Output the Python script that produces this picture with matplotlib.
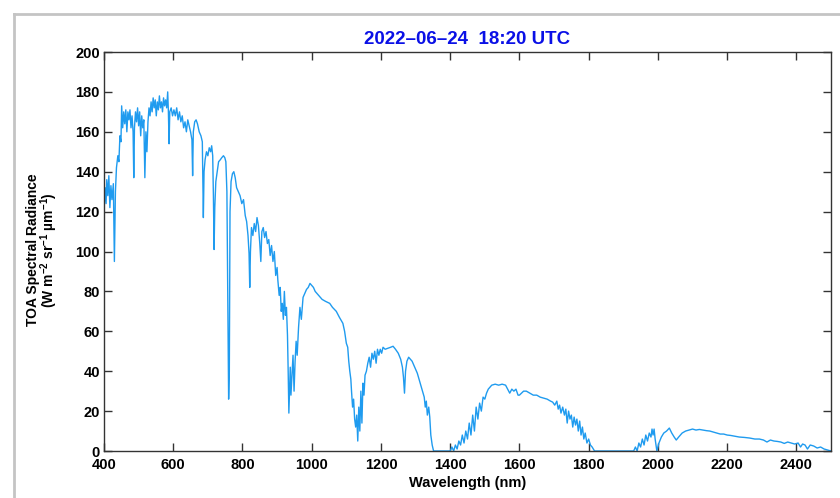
import matplotlib
matplotlib.use("Agg")
import matplotlib.pyplot as plt
from matplotlib.lines import Line2D

plt.rcParams['font.family'] = ['Liberation Sans', 'DejaVu Sans']
plt.rcParams['font.weight'] = 'bold'
plt.rcParams['mathtext.fontset'] = 'custom'
plt.rcParams['mathtext.rm'] = 'Liberation Sans:bold'
plt.rcParams['mathtext.bf'] = 'Liberation Sans:bold'
plt.rcParams['mathtext.default'] = 'bf'

# spectrum (wavelength nm, radiance W m-2 sr-1 um-1)
wavelength = [
    400, 403, 406, 408, 411, 414, 417, 420, 423, 427, 430, 433, 436, 440, 443, 446, 449, 451, 454, 457,
    460, 463, 466, 469, 472, 475, 478, 481, 484, 486, 488, 491, 494, 497, 500, 503, 506, 509, 512, 515,
    518, 521, 524, 527, 530, 533, 536, 539, 542, 545, 548, 551, 554, 557, 560, 563, 566, 569, 572, 575,
    578, 581, 584, 586, 588, 590, 594, 598, 602, 606, 610, 614, 618, 622, 626, 630, 634, 638, 642, 646,
    650, 654, 656, 658, 662, 666, 670, 675, 680, 684, 687, 689, 692, 696, 700, 704, 708, 711, 714, 716,
    718, 720, 723, 727, 731, 736, 740, 745, 749, 752, 755, 758, 760, 762, 764, 767, 771, 775, 779, 783,
    788, 793, 798, 803, 808, 812, 816, 819, 821, 823, 826, 830, 834, 838, 842, 846, 850, 853, 856, 860,
    864, 868, 872, 876, 880, 884, 888, 892, 896, 900, 902, 906, 909, 912, 915, 918, 921, 924, 927, 930,
    932, 934, 936, 938, 940, 943, 946, 949, 952, 955, 958, 962, 966, 970, 975, 980, 985, 990, 995, 1000,
    1005, 1010, 1015, 1020, 1030, 1040, 1052, 1060, 1071, 1080, 1090, 1095, 1100, 1104, 1107, 1110, 1113,
    1115, 1118, 1121, 1124, 1127, 1130, 1133, 1136, 1139, 1142, 1145, 1148, 1151, 1154, 1158, 1162, 1166,
    1170, 1174, 1178, 1182, 1186, 1190, 1194, 1198, 1202, 1206, 1212, 1220, 1228, 1235, 1242, 1250, 1257,
    1262, 1265, 1268, 1271, 1275, 1280, 1285, 1290, 1295, 1300, 1305, 1310, 1315, 1320, 1325, 1328, 1331,
    1334, 1338, 1341, 1344, 1348, 1352, 1400, 1405, 1410, 1415, 1420, 1425, 1430, 1435, 1440, 1445, 1450,
    1455, 1460, 1465, 1470, 1475, 1480, 1485, 1490, 1495, 1500, 1505, 1510, 1515, 1520, 1530, 1540, 1550,
    1560, 1566, 1572, 1578, 1584, 1590, 1596, 1600, 1606, 1612, 1620, 1630, 1640, 1650, 1660, 1670, 1680,
    1690, 1696, 1702, 1708, 1712, 1716, 1720, 1725, 1730, 1734, 1738, 1742, 1746, 1750, 1754, 1758, 1762,
    1766, 1770, 1774, 1778, 1782, 1786, 1790, 1795, 1800, 1805, 1810, 1817, 1930, 1935, 1940, 1945, 1950,
    1955, 1960, 1965, 1970, 1975, 1980, 1983, 1986, 1989, 1992, 1997, 2003, 2010, 2017, 2025, 2033, 2040,
    2047, 2053, 2060, 2070, 2080, 2090, 2100, 2110, 2120, 2130, 2140, 2150, 2160, 2170, 2180, 2190, 2200,
    2210, 2220, 2235, 2250, 2265, 2280, 2293, 2305, 2315, 2325, 2335, 2345, 2355, 2365, 2375, 2385, 2395,
    2405, 2412, 2418, 2425, 2432, 2440, 2450, 2460, 2470, 2480, 2490, 2500,
]
radiance = [
    120, 132, 124, 136, 128, 138, 122, 133, 126, 134, 95, 130, 142, 148, 145, 158, 155, 173, 162, 170,
    164, 171, 160, 170, 166, 171, 162, 168, 160, 137, 162, 170, 165, 172, 163, 170, 158, 168, 162, 166,
    137, 160, 150, 165, 172, 168, 175, 170, 177, 172, 176, 168, 175, 171, 178, 172, 175, 170, 177, 173,
    176, 172, 180, 170, 154, 170, 172, 168, 171, 168, 172, 166, 170, 165, 168, 162, 165, 160, 166, 163,
    160, 156, 138, 160, 165, 166, 164, 160, 158, 155, 117, 140, 146, 150, 148, 152, 150, 153, 148, 128,
    101, 122, 135, 140, 145, 146, 147, 148, 147, 145, 130, 70, 26, 40, 120, 135, 139, 140, 137, 132,
    130, 128, 124, 126, 118, 115, 108, 99, 82, 100, 112, 108, 114, 110, 117, 113, 104, 95, 110, 112,
    107, 110, 104, 106, 98, 103, 95, 100, 88, 92, 86, 78, 82, 70, 74, 66, 80, 68, 72, 58,
    40, 19, 30, 42, 28, 38, 48, 30, 45, 55, 48, 62, 72, 66, 77, 79, 81, 82, 84, 83,
    82, 80, 79, 78, 76, 75, 74, 72, 70, 67, 64, 60, 54, 52, 45, 40, 36,
    30, 22, 26, 16, 12, 18, 5, 22, 10, 30, 14, 34, 28, 38, 40, 44, 47,
    42, 49, 46, 50, 44, 51, 48, 51, 49, 52, 51, 51.5, 52, 52.5, 51, 49, 46,
    42, 37, 29, 40, 45, 47, 46, 45, 43, 41, 39, 36, 33, 30, 27, 22, 25,
    18, 22, 17, 8, 3, 0, 0, 2, 0, 3, 1, 5, 3, 8, 4, 10, 6,
    14, 8, 18, 10, 22, 16, 24, 20, 27, 26, 29, 31, 32, 33, 33.5, 33, 33.5,
    33, 31, 29, 31, 30, 31, 28, 28, 29, 30, 30, 29, 28, 28, 27, 26.5, 26,
    25, 24.5, 23, 25, 21, 23, 19, 22, 18, 21, 14, 20, 16, 18, 12, 17, 13,
    16, 10, 15, 8, 12, 6, 9, 4, 6, 3, 2, 0, 0, 2, 0, 4, 2,
    6, 3, 8, 5, 9, 7, 11, 8, 11, 6, 0, 4, 7, 9, 10, 11.5, 9,
    7, 5.5, 7, 9, 10, 10.5, 11, 10.5, 10.8, 10.5, 10.2, 10, 9.5, 9, 8.5, 8.5, 8,
    7.8, 7.5, 7, 6.8, 6.5, 6, 6, 5.5, 4.5, 5.5, 5, 4.8, 4.5, 3.8, 4.5, 4, 3.5,
    4, 2, 3.5, 3, 1, 3, 2.5, 1.5, 2, 1, 0.5, 0,
]
xticks = [400, 600, 800, 1000, 1200, 1400, 1600, 1800, 2000, 2200, 2400]
yticks = [0, 20, 40, 60, 80, 100, 120, 140, 160, 180, 200]

fig = plt.figure(figsize=(8.4, 4.98), dpi=100)
ax = fig.add_axes([104 / 840, 1 - 451 / 498, 727 / 840, 399 / 498])

ax.plot(wavelength, radiance, color='#1f9bef', lw=1.0)

ax.set_xlim(400, 2500)
ax.set_ylim(0, 200)
ax.set_xticks(xticks)
ax.set_yticks(yticks)
ax.tick_params(direction='in', top=True, right=True, length=6, width=1,
               color='#333333', labelsize=10.5, pad=3)
ax.tick_params(axis='x', pad=5)
for s in ax.spines.values():
    s.set_color('#333333')
    s.set_linewidth(1)
for lab in ax.get_xticklabels() + ax.get_yticklabels():
    lab.set_fontweight('bold')

ax.set_title('2022\u201306\u201324  18:20 UTC', color='#0a10e6', fontsize=13.5,
             fontweight='bold', pad=6)
ax.set_xlabel('Wavelength (nm)', fontsize=10.5, fontweight='bold', labelpad=3)

fig.text(33 / 840, 1 - 250 / 498, 'TOA Spectral Radiance', rotation=90,
         ha='center', va='center', fontsize=10, fontweight='bold')
fig.text(49 / 840, 1 - 250 / 498, r'(W m$^{-2}$ sr$^{-1}$ µm$^{-1}$)', rotation=90,
         ha='center', va='center', fontsize=10, fontweight='bold')

# light grey frame around the panel
fig.add_artist(Line2D([14 / 840, 14 / 840], [0, 1 - 14 / 498], color='#c4c4c4', lw=2))
fig.add_artist(Line2D([14 / 840, 1], [1 - 14 / 498, 1 - 14 / 498], color='#c4c4c4', lw=2))

fig.savefig('out.png', dpi=100)
